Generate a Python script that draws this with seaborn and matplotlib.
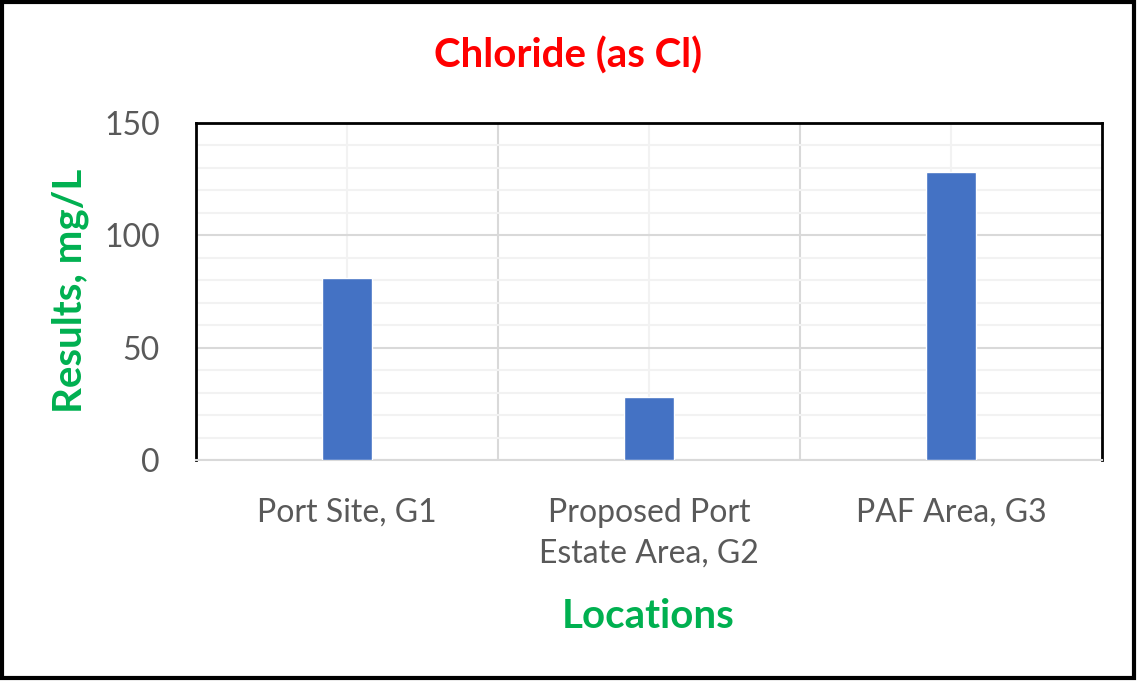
import numpy as np
import pandas as pd
import matplotlib
matplotlib.use("Agg")
import matplotlib.pyplot as plt
from matplotlib.patches import Rectangle
from matplotlib.ticker import MultipleLocator, FixedLocator
import seaborn as sns

# data
locations = ["Port Site, G1", "Proposed Port\nEstate Area, G2", "PAF Area, G3"]
chloride = [81, 28, 128]

df = pd.DataFrame({"Location": locations, "Chloride": chloride})

sns.set_theme(style="white")
plt.rcParams['font.family'] = ['Lato', 'DejaVu Sans']

fig = plt.figure(figsize=(11.37, 6.82), dpi=100)
ax = fig.add_axes([196/1137, 1-460/682, (1102-196)/1137, (460-123)/682])

sns.barplot(data=df, x="Location", y="Chloride", color="#4472C4", width=0.166,
            saturation=1, ax=ax, zorder=3)

ax.set_xlim(-0.5, 2.5)
ax.set_ylim(0, 150)

# gridlines like the spreadsheet chart
ax.yaxis.set_major_locator(MultipleLocator(50))
ax.yaxis.set_minor_locator(MultipleLocator(10))
ax.xaxis.set_minor_locator(FixedLocator([0.5, 1.5]))
ax.grid(which="major", axis="y", color="#D9D9D9", lw=1.5, zorder=0)
ax.grid(which="minor", axis="y", color="#F2F2F2", lw=1.5, zorder=0)
ax.grid(which="major", axis="x", color="#F2F2F2", lw=1.5, zorder=0)
ax.grid(which="minor", axis="x", color="#D9D9D9", lw=1.5, zorder=0)

for s in ["left", "top", "right"]:
    ax.spines[s].set_color("black")
    ax.spines[s].set_linewidth(2)
ax.spines["bottom"].set_color("#D9D9D9")
ax.spines["bottom"].set_linewidth(1.5)

ax.tick_params(axis="both", which="both", length=0, labelsize=23, colors="#595959")
ax.tick_params(axis="y", pad=26)
ax.tick_params(axis="x", pad=27)
for lab in ax.get_xticklabels():
    lab.set_linespacing(1.45)
ax.set_xlabel("")
ax.set_ylabel("")

fig.text(0.5, 1-56/682, "Chloride (as Cl)", color="#FF0000", fontsize=29,
         fontweight="bold", ha="center", va="center")
fig.text(70/1137, 1-291/682, "Results, mg/L", color="#00B050", fontsize=29,
         fontweight="bold", ha="center", va="center", rotation=90)
fig.text(648/1137, 1-616/682, "Locations", color="#00B050", fontsize=29,
         fontweight="bold", ha="center", va="center")

fig.patches.append(Rectangle((0.002, 0.006), 0.995, 0.991, transform=fig.transFigure,
                             fill=False, edgecolor="black", lw=3))

fig.savefig("out.png", dpi=100, facecolor="white")
